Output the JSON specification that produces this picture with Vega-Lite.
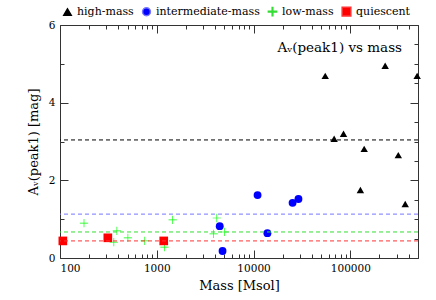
{
  "$schema": "https://vega.github.io/schema/vega-lite/v6.json",
  "autosize": "none",
  "width": 358,
  "height": 233,
  "padding": {"left": 60, "top": 25, "right": 18, "bottom": 42},
  "background": "white",
  "config": {
    "view": {"stroke": null},
    "font": "DejaVu Serif",
    "axis": {"grid": false, "domainColor": "#333", "tickColor": "#333", "labelColor": "#000", "titleColor": "#000", "labelFont": "DejaVu Serif", "titleFont": "DejaVu Serif", "labelFontSize": 10.5, "titleFontSize": 13, "titleFontWeight": "normal", "labelOverlap": false},
    "legend": {"orient": "none", "legendX": 2, "legendY": -19, "direction": "horizontal", "title": null, "labelFont": "DejaVu Serif", "labelFontSize": 11, "columnPadding": 5, "labelOffset": 4}
  },
  "title": {"text": "Aᵥ(peak1) vs mass", "anchor": "end", "orient": "top", "frame": "group", "font": "DejaVu Serif", "fontSize": 13.5, "fontWeight": "normal", "color": "#000", "dy": 52, "dx": -16},
  "layer": [
    {
      "data": {"values": [
        {"mass": 55000, "av": 4.69, "type": "high-mass"},
        {"mass": 229000, "av": 4.95, "type": "high-mass"},
        {"mass": 490000, "av": 4.69, "type": "high-mass"},
        {"mass": 68000, "av": 3.07, "type": "high-mass"},
        {"mass": 85000, "av": 3.2, "type": "high-mass"},
        {"mass": 139000, "av": 2.81, "type": "high-mass"},
        {"mass": 313000, "av": 2.65, "type": "high-mass"},
        {"mass": 127000, "av": 1.75, "type": "high-mass"},
        {"mass": 369000, "av": 1.39, "type": "high-mass"},
        {"mass": 11000, "av": 1.62, "type": "intermediate-mass"},
        {"mass": 25300, "av": 1.42, "type": "intermediate-mass"},
        {"mass": 29100, "av": 1.52, "type": "intermediate-mass"},
        {"mass": 13900, "av": 0.64, "type": "intermediate-mass"},
        {"mass": 4470, "av": 0.82, "type": "intermediate-mass"},
        {"mass": 4780, "av": 0.18, "type": "intermediate-mass"},
        {"mass": 177, "av": 0.9, "type": "low-mass"},
        {"mass": 387, "av": 0.7, "type": "low-mass"},
        {"mass": 360, "av": 0.41, "type": "low-mass"},
        {"mass": 503, "av": 0.52, "type": "low-mass"},
        {"mass": 751, "av": 0.44, "type": "low-mass"},
        {"mass": 1200, "av": 0.28, "type": "low-mass"},
        {"mass": 1460, "av": 0.98, "type": "low-mass"},
        {"mass": 4170, "av": 1.03, "type": "low-mass"},
        {"mass": 3870, "av": 0.62, "type": "low-mass"},
        {"mass": 5000, "av": 0.67, "type": "low-mass"},
        {"mass": 107, "av": 0.44, "type": "quiescent"},
        {"mass": 312, "av": 0.52, "type": "quiescent"},
        {"mass": 1180, "av": 0.44, "type": "quiescent"}
      ]},
      "mark": {"type": "point", "filled": true, "opacity": 1, "strokeWidth": 0},
      "encoding": {
        "x": {"field": "mass", "type": "quantitative", "scale": {"type": "log", "domain": [100, 500000], "nice": false},
          "axis": {"orient": "bottom", "title": "Mass [Msol]", "format": "d", "titlePadding": 2,
            "values": [100,200,300,400,500,600,700,800,900,1000,2000,3000,4000,5000,6000,7000,8000,9000,10000,20000,30000,40000,50000,60000,70000,80000,90000,100000,200000,300000,400000,500000],
            "labelExpr": "indexof([100,1000,10000,100000], datum.value) >= 0 ? datum.label : ''",
            "tickSize": {"condition": {"test": "indexof([100,1000,10000,100000], datum.value) >= 0", "value": -8}, "value": -4},
            "labelPadding": 13}},
        "y": {"field": "av", "type": "quantitative", "scale": {"domain": [0, 6], "nice": false},
          "axis": {"orient": "left", "title": "Aᵥ(peak1) [mag]", "titlePadding": 8, "format": "d",
            "values": [0,0.5,1,1.5,2,2.5,3,3.5,4,4.5,5,5.5,6],
            "labelExpr": "indexof([0,2,4,6], datum.value) >= 0 ? datum.label : ''",
            "tickSize": {"condition": {"test": "indexof([0,2,4,6], datum.value) >= 0", "value": -8}, "value": -4},
            "labelPadding": 13}},
        "color": {"field": "type", "type": "nominal",
          "scale": {"domain": ["high-mass", "intermediate-mass", "low-mass", "quiescent"], "range": ["#000000", "#0000ff", "#00ff00", "#ff0000"]},
          "legend": {"encode": {"labels": {"update": {"fill": {"signal": "datum.value === 'high-mass' ? '#000000' : datum.value === 'intermediate-mass' ? '#3333ff' : datum.value === 'low-mass' ? '#00e000' : '#ff2020'"}}}}}},
        "shape": {"field": "type", "type": "nominal",
          "scale": {"domain": ["high-mass", "intermediate-mass", "low-mass", "quiescent"], "range": ["triangle-up", "circle", "M-1,-0.08H1V0.08H-1ZM-0.08,-1H0.08V1H-0.08Z", "square"]},
          "legend": {"encode": {"labels": {"update": {"fill": {"signal": "datum.value === 'high-mass' ? '#000000' : datum.value === 'intermediate-mass' ? '#3333ff' : datum.value === 'low-mass' ? '#00e000' : '#ff2020'"}}}}}},
        "size": {"field": "type", "type": "nominal",
          "scale": {"domain": ["high-mass", "intermediate-mass", "low-mass", "quiescent"], "range": [55, 75, 144, 55]},
          "legend": {"encode": {"labels": {"update": {"fill": {"signal": "datum.value === 'high-mass' ? '#000000' : datum.value === 'intermediate-mass' ? '#3333ff' : datum.value === 'low-mass' ? '#00e000' : '#ff2020'"}}}}}}
      }
    },
    {
      "data": {"values": [
        {"av": 3.04, "type": "high-mass"},
        {"av": 1.13, "type": "intermediate-mass"},
        {"av": 0.67, "type": "low-mass"},
        {"av": 0.44, "type": "quiescent"}
      ]},
      "mark": {"type": "rule", "strokeDash": [4, 3], "strokeWidth": 1},
      "encoding": {
        "y": {"field": "av", "type": "quantitative", "scale": {"domain": [0, 6], "nice": false},
          "axis": {"orient": "right", "title": null, "labels": false, "domainColor": "#333",
            "values": [0,0.5,1,1.5,2,2.5,3,3.5,4,4.5,5,5.5,6],
            "tickSize": {"condition": {"test": "indexof([0,2,4,6], datum.value) >= 0", "value": -8}, "value": -4}}},
        "stroke": {"field": "type", "type": "nominal", "legend": null,
          "scale": {"domain": ["high-mass", "intermediate-mass", "low-mass", "quiescent"], "range": ["#000000", "#7777ff", "#33dd33", "#ff3333"]}}
      }
    },
    {
      "data": {"values": [{"mass": 1000}]},
      "mark": {"type": "point", "opacity": 0},
      "encoding": {
        "x": {"field": "mass", "type": "quantitative", "scale": {"type": "log", "domain": [100, 500000], "nice": false},
          "axis": {"orient": "top", "title": null, "labels": false,
            "values": [100,200,300,400,500,600,700,800,900,1000,2000,3000,4000,5000,6000,7000,8000,9000,10000,20000,30000,40000,50000,60000,70000,80000,90000,100000,200000,300000,400000,500000],
            "tickSize": {"condition": {"test": "indexof([100,1000,10000,100000], datum.value) >= 0", "value": -8}, "value": -4}}}
      }
    }
  ],
  "resolve": {"axis": {"x": "independent", "y": "independent"}}
}
